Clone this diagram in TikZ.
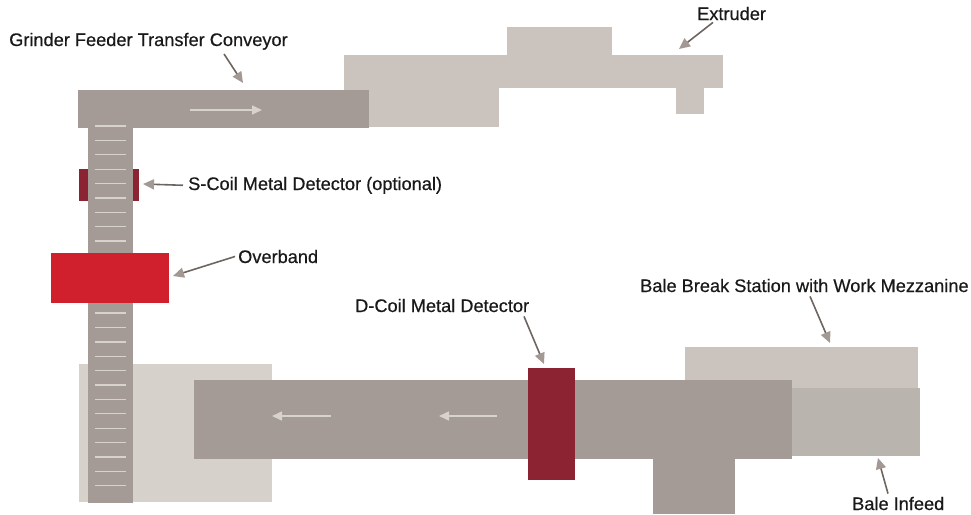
\documentclass[tikz,border=0pt]{standalone}
\usepackage{fontspec}
\setmainfont{Liberation Sans}
\newfontfamily\labelfont{Liberation Sans}[FakeBold=0.5]
\usetikzlibrary{arrows.meta,positioning}

\definecolor{belt}{HTML}{A59B96}
\definecolor{machine}{HTML}{CBC3BD}
\definecolor{floorpad}{HTML}{D6D1CB}
\definecolor{infeed}{HTML}{B9B4AD}
\definecolor{coil}{HTML}{8B2332}
\definecolor{magnet}{HTML}{D0202E}
\definecolor{slat}{HTML}{D8D2CC}
\definecolor{pointer}{HTML}{6F6560}
\definecolor{pointerhead}{HTML}{A39893}

\begin{document}
\begin{tikzpicture}[
    x=1pt, y=-1pt,
    label/.style={anchor=base west, inner sep=0pt, text=black!90, font=\labelfont\fontsize{18.2}{21}\selectfont},
    pointer/.style={draw=pointer, line width=1.6pt, -{Triangle[length=11pt, width=10pt, color=pointerhead, fill=pointerhead]}},
    flow/.style={draw=slat, line width=1.6pt, -{Triangle[length=10pt, width=9pt]}}
]
\useasboundingbox (0,0) rectangle (971,514);

% Equipment
\fill[floorpad] (79,364) rectangle (272,502);
\fill[machine] (507,27) rectangle (612,56);
\fill[machine] (344,55) rectangle (723,88);
\fill[machine] (344,55) rectangle (499,127);
\fill[machine] (676,87) rectangle (704,114);
\fill[machine] (685,347) rectangle (918,392);
\fill[infeed] (790,388) rectangle (920,456);
\fill[coil] (79,169) rectangle (139,201);
\fill[belt] (78,90) rectangle (369,128);
\fill[belt] (88,127) rectangle (133,503);
\fill[belt] (194,380) rectangle (792,459);
\fill[belt] (653,458) rectangle (735,514);

% Slats on the vertical conveyor
\foreach \i in {0,...,25}
    \draw[slat, line width=1.3pt] (95,126+14.39*\i) -- (126,126+14.39*\i);

\fill[magnet] (51,253) rectangle (169,303);
\fill[coil] (528,368) rectangle (575,480);

% Flow arrows
\coordinate (topflowA) at (190,110);
\coordinate (topflowB) at (262,110);
\coordinate (lowflowA) at (331,416);
\coordinate (lowflowB) at (272,416);
\coordinate (midflowA) at (497,416);
\coordinate (midflowB) at (439,416);
\draw[flow] (topflowA) -- (topflowB);
\draw[flow] (lowflowA) -- (lowflowB);
\draw[flow] (midflowA) -- (midflowB);

% Labels
\node[label] (grinder) at (9,46) {Grinder Feeder Transfer Conveyor};
\node[label] (extruder) at (697,20) {Extruder};
\node[label] (scoil) at (188,190) {S-Coil Metal Detector (optional)};
\node[label] (overband) at (238,263) {Overband};
\node[label] (dcoil) at (355,312) {D-Coil Metal Detector};
\node[label] (balebreak) at (640,292) {Bale Break Station with Work Mezzanine};
\node[label] (baleinfeed) at (852,510) {Bale Infeed};

% Pointer ends
\coordinate (grinderpt) at (243,83);
\coordinate (extruderpt) at (679,49);
\coordinate (scoilpt) at (143,184);
\coordinate (overbandpt) at (173,276);
\coordinate (dcoilpt) at (544,364);
\coordinate (balebreakpt) at (830,343);
\coordinate (baleinfeedpt) at (878,458);

\draw[pointer] ([xshift=215pt, yshift=-4pt]grinder.south west) -- (grinderpt);
\draw[pointer] ([xshift=16pt, yshift=-2pt]extruder.south west) -- (extruderpt);
\draw[pointer] ([xshift=-5pt]scoil.west) -- (scoilpt);
\draw[pointer] ([xshift=-3pt]overband.west) -- (overbandpt);
\draw[pointer] ([xshift=169pt, yshift=-4pt]dcoil.south west) -- (dcoilpt);
\draw[pointer] ([xshift=170pt, yshift=-4pt]balebreak.south west) -- (balebreakpt);
\draw[pointer] ([xshift=36pt, yshift=3pt]baleinfeed.north west) -- (baleinfeedpt);

\end{tikzpicture}
\end{document}
